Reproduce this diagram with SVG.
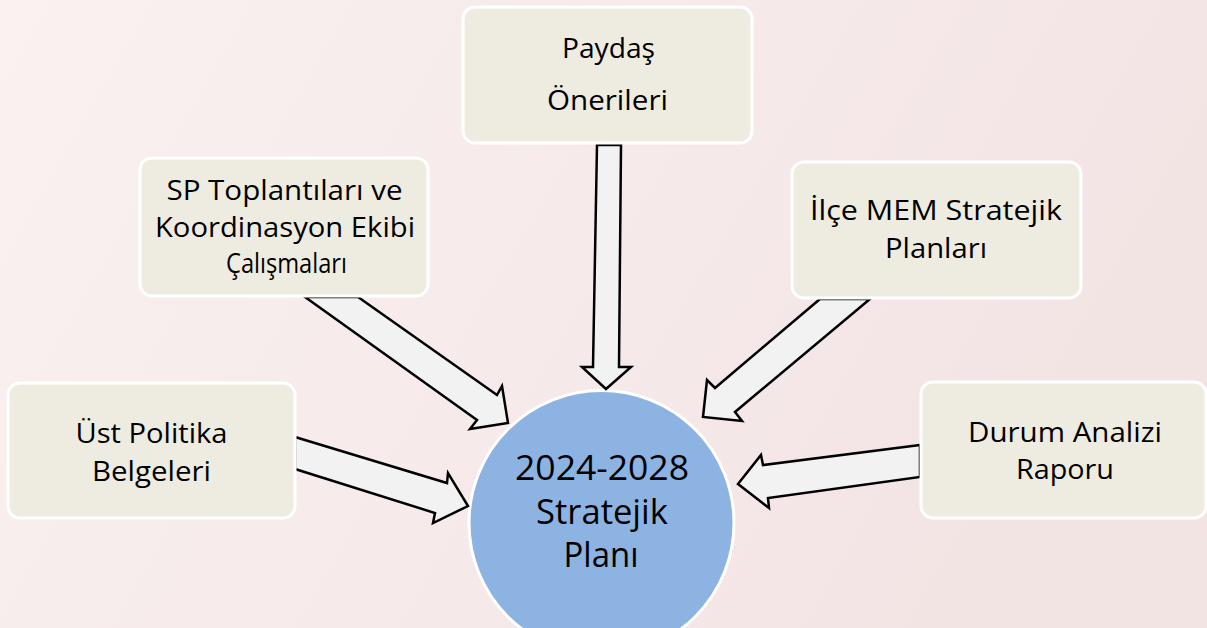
<svg xmlns="http://www.w3.org/2000/svg" width="1207" height="628" viewBox="0 0 1207 628">
  <defs>
    <linearGradient id="bg" x1="0" y1="0" x2="1" y2="0.3">
      <stop offset="0" stop-color="#faf1f1"/>
      <stop offset="1" stop-color="#f3e4e4"/>
    </linearGradient>
    <style>
      .box { fill: #eeece1; stroke: #ffffff; stroke-width: 3; }
      .t { font-family: "Open Sans", "Noto Sans", sans-serif; font-size: 28px; fill: #000000; text-anchor: middle; }
      .ct { font-family: "Open Sans", "Noto Sans", sans-serif; font-size: 35px; fill: #000000; text-anchor: middle; }
      .arrow { fill: #f2f2f2; stroke: #000000; stroke-width: 2.5; stroke-linejoin: miter; }
    </style>
  </defs>
  <rect x="0" y="0" width="1207" height="628" fill="url(#bg)"/>

  <g id="center">
    <circle cx="601.5" cy="523" r="132.5" fill="#8db3e2" stroke="#ffffff" stroke-width="3"/>
    <text class="ct" x="602" y="480" textLength="174" lengthAdjust="spacingAndGlyphs">2024-2028</text>
    <text class="ct" x="602" y="524" textLength="132" lengthAdjust="spacingAndGlyphs">Stratejik</text>
    <text class="ct" x="601" y="567" textLength="75" lengthAdjust="spacingAndGlyphs">Planı</text>
  </g>

  <g id="connectors">
    <polygon class="arrow" points="295,437 447,483 448,473 468,506 433,523 435,513 295,469"/>
    <polygon class="arrow" points="358,297 497,395 502,386 508,423 470,429 477,420 305,297"/>
    <polygon class="arrow" points="597,145 621,145 619,367 631,367 606,389 582,367 593,367"/>
    <polygon class="arrow" points="820,299 715,388 707,380 703,417 742,421 735,412 870,299"/>
    <polygon class="arrow" points="920,445 763,465 761,455 738,484 769,508 768,498 920,477"/>
  </g>

  <g id="ust-politika">
    <rect class="box" x="8" y="383" width="287" height="135" rx="12"/>
    <text class="t" x="151.5" y="443" textLength="152" lengthAdjust="spacingAndGlyphs">Üst Politika</text>
    <text class="t" x="151.5" y="481" textLength="119" lengthAdjust="spacingAndGlyphs">Belgeleri</text>
  </g>

  <g id="sp-toplantilari">
    <rect class="box" x="140" y="158" width="288" height="138" rx="12"/>
    <text class="t" x="284.5" y="200" textLength="236" lengthAdjust="spacingAndGlyphs">SP Toplantıları ve</text>
    <text class="t" x="285" y="237" textLength="260" lengthAdjust="spacingAndGlyphs">Koordinasyon Ekibi</text>
    <text class="t" x="286.5" y="273" textLength="121" lengthAdjust="spacingAndGlyphs">Çalışmaları</text>
  </g>

  <g id="paydas">
    <rect class="box" x="463" y="7" width="289" height="136" rx="12"/>
    <text class="t" x="608.5" y="58" textLength="93" lengthAdjust="spacingAndGlyphs">Paydaş</text>
    <text class="t" x="607.5" y="110" textLength="121" lengthAdjust="spacingAndGlyphs">Önerileri</text>
  </g>

  <g id="ilce-mem">
    <rect class="box" x="792" y="162" width="289" height="136" rx="12"/>
    <text class="t" x="936" y="220" textLength="252" lengthAdjust="spacingAndGlyphs">İlçe MEM Stratejik</text>
    <text class="t" x="936" y="258" textLength="102" lengthAdjust="spacingAndGlyphs">Planları</text>
  </g>

  <g id="durum-analizi">
    <rect class="box" x="921" y="382" width="285" height="136" rx="12"/>
    <text class="t" x="1065" y="442" textLength="194" lengthAdjust="spacingAndGlyphs">Durum Analizi</text>
    <text class="t" x="1065" y="479" textLength="98" lengthAdjust="spacingAndGlyphs">Raporu</text>
  </g>
</svg>
